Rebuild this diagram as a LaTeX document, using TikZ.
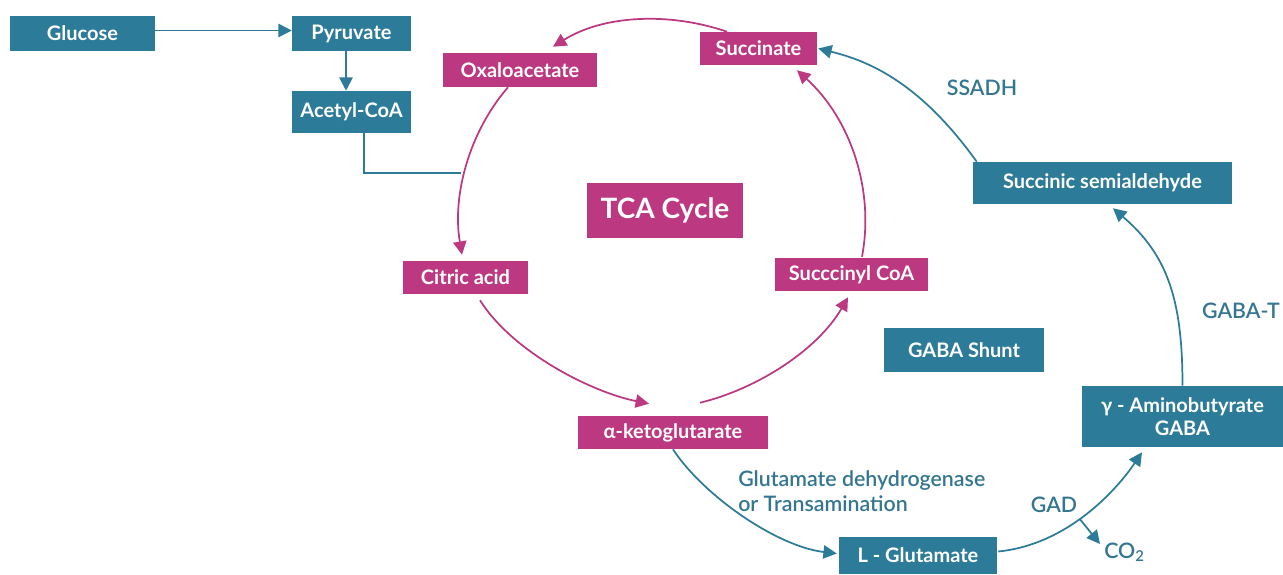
\documentclass[tikz,border=0pt]{standalone}
\usepackage{fontspec}
\setmainfont{Lato}
\newfontfamily\enzfont{Lato Semibold}
\usetikzlibrary{arrows.meta,calc}
\definecolor{gabateal}{RGB}{44,123,152}
\definecolor{tcapink}{RGB}{188,56,128}
\definecolor{labelteal}{RGB}{52,118,146}

\begin{document}
\begin{tikzpicture}[x=0.75pt,y=0.75pt,yscale=-1,xscale=1,
  tbox/.style={fill=gabateal,text=white,inner sep=0pt,align=center,font=\fontsize{15}{17}\selectfont\bfseries},
  pbox/.style={fill=tcapink,text=white,inner sep=0pt,align=center,font=\fontsize{15}{17}\selectfont\bfseries},
  tline/.style={draw=gabateal,line width=1.3pt},
  tlink/.style={tline,-{Triangle[length=10pt,width=10pt]}},
  plink/.style={draw=tcapink,line width=1.3pt,-{Triangle[length=10pt,width=10pt]}},
  enz/.style={text=labelteal,inner sep=0pt,font=\fontsize{16}{19}\enzfont}]
\useasboundingbox (0,0) rectangle (1283,575);

% glycolysis boxes
\node[tbox,minimum width=108.75pt,minimum height=26.25pt] (glucose) at (82.5,33.5) {Glucose};
\node[tbox,minimum width=89.25pt,minimum height=26.25pt] (pyruvate) at (351.5,33.5) {Pyruvate};
\node[tbox,minimum width=89.25pt,minimum height=31.5pt] (acetyl) at (351.5,112) {Acetyl-CoA};

% TCA cycle boxes
\node[pbox,minimum width=115.5pt,minimum height=25.5pt] (oxa) at (520,70) {Oxaloacetate};
\node[pbox,minimum width=87.75pt,minimum height=24.75pt] (succ) at (758.5,48.5) {Succinate};
\node[pbox,minimum width=117pt,minimum height=41.25pt,font=\fontsize{21}{24}\selectfont\bfseries] (tca) at (665,210.5) {TCA Cycle};
\node[pbox,minimum width=93.75pt,minimum height=24.75pt] (citric) at (465.5,277.5) {Citric acid};
\node[pbox,minimum width=114.75pt,minimum height=24.75pt] (succinyl) at (851.5,274.5) {Succcinyl CoA};
\node[pbox,minimum width=142.5pt,minimum height=24.75pt] (akg) at (673,432.5) {α-ketoglutarate};

% GABA shunt boxes
\node[tbox,minimum width=120pt,minimum height=33pt] (shunt) at (964,350) {GABA Shunt};
\node[tbox,minimum width=194.25pt,minimum height=31.5pt] (ssa) at (1102.5,183) {Succinic semialdehyde};
\node[tbox,minimum width=150.75pt,minimum height=45.75pt] (gaba) at (1182.5,416.5) {γ - Aminobutyrate\\GABA};
\node[tbox,minimum width=118.5pt,minimum height=27.75pt] (lglu) at (918,555.5) {L - Glutamate};

% enzyme labels
\node[enz] (ssadh) at (982,88) {SSADH};
\node[enz] (gabat) at (1241,311) {GABA-T};
\node[enz] (gad) at (1054,505) {GAD};
\node[enz,anchor=west,align=left] (gdh) at (738,491) {Glutamate dehydrogenase\\or Transamination};
\node[enz,anchor=west] (co2) at (1104,552) {CO\textsubscript{2}};

% glycolysis links
\draw[tlink] ($(glucose.east)+(0,-3)$) -- ($(pyruvate.west)+(0,-3)$);
\draw[tlink] ($(pyruvate.south)+(-5.5,0)$) -- ($(acetyl.north)+(-5.5,0)$);
\coordinate (join) at (461,173);
\draw[tline] ($(acetyl.south)+(12.5,0)$) |- (join);

% TCA cycle arcs
\draw[plink] ($(succ.north)+(-31.5,0)$) .. controls +(-57,-19.6) and +(51,-32) .. ($(oxa.north)+(33,-6)$);
\draw[plink] ($(oxa.south)+(-12,0)$) .. controls +(-39,45) and +(-10,-59) .. ($(citric.north)+(-3.5,-6)$);
\draw[plink] ($(citric.south)+(14.5,6)$) .. controls +(32,51) and +(-59,-12) .. ($(akg.north)+(-24,-12)$);
\draw[plink] ($(akg.north)+(27,-13)$) .. controls +(58,-14) and +(-30,52) .. ($(succinyl.south)+(-3.5,6)$);
\draw[plink] ($(succinyl.north)+(10.5,-1)$) .. controls +(13,-69) and +(52,47) .. ($(succ.south)+(38.5,5)$);

% GABA shunt arcs
\draw[tlink] (akg.south) .. controls +(30,46) and +(-60,-7) .. ($(lglu.west)+(-2,-2)$);
\draw[tlink] ($(lglu.east)+(1,-4)$) .. controls +(70,-7) and +(-25,37) .. ($(gaba.south)+(-40.5,5)$) coordinate[pos=0.45] (co2src);
\draw[tlink] (co2src) -- ($(co2.west)+(-4,-8)$);
\draw[tlink] (gaba.north) .. controls +(0,-85) and +(55,47) .. ($(ssa.south)+(10.5,4)$);
\draw[tlink] ($(ssa.north west)+(4,0)$) .. controls +(-58,-81) and +(48.5,12) .. ($(succ.east)+(1,0)$);

\end{tikzpicture}
\end{document}
